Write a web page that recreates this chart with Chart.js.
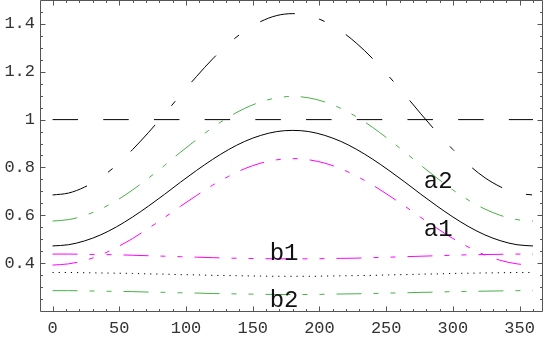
<!DOCTYPE html>
<html>
<head>
<meta charset="utf-8">
<script src="https://cdn.jsdelivr.net/npm/chart.js@4.4.0/dist/chart.umd.min.js"></script>
<style>
  html, body { margin: 0; padding: 0; background: #fff; }
  #wrap { width: 545px; height: 337px; }
</style>
</head>
<body>
<div id="wrap"><canvas id="chart" width="545" height="337"></canvas></div>
<script>
// x positions of the sampled points (degrees)
const angles = [0, 12, 24, 36, 48, 60, 72, 84, 96, 108, 120, 132, 144, 156, 168, 180,
    192, 204, 216, 228, 240, 252, 264, 276, 288, 300, 312, 324, 336, 348, 360];

// values
const upperDashDot = [0.685, 0.693, 0.718, 0.757, 0.810, 0.875, 0.947, 1.024, 1.104, 1.181, 1.254, 1.318, 1.371, 1.410, 1.435, 1.443,
    1.435, 1.410, 1.371, 1.318, 1.254, 1.181, 1.104, 1.024, 0.947, 0.875, 0.810, 0.757, 0.718, 0.693, 0.685];
const a2 = [0.576, 0.582, 0.599, 0.626, 0.662, 0.706, 0.756, 0.809, 0.864, 0.917, 0.967, 1.011, 1.047, 1.074, 1.091, 1.097,
    1.091, 1.074, 1.047, 1.011, 0.967, 0.917, 0.864, 0.809, 0.756, 0.706, 0.662, 0.626, 0.599, 0.582, 0.576];
const solidMid = [0.472, 0.477, 0.493, 0.518, 0.552, 0.593, 0.639, 0.688, 0.739, 0.788, 0.834, 0.875, 0.909, 0.934, 0.950, 0.955,
    0.950, 0.934, 0.909, 0.875, 0.834, 0.788, 0.739, 0.688, 0.639, 0.593, 0.552, 0.518, 0.493, 0.477, 0.472];
const a1 = [0.392, 0.397, 0.411, 0.434, 0.466, 0.503, 0.546, 0.591, 0.638, 0.683, 0.726, 0.763, 0.795, 0.818, 0.832, 0.837,
    0.832, 0.818, 0.795, 0.763, 0.726, 0.683, 0.638, 0.591, 0.546, 0.503, 0.466, 0.434, 0.411, 0.397, 0.392];
const b1 = [0.438, 0.438, 0.437, 0.436, 0.435, 0.433, 0.431, 0.429, 0.427, 0.425, 0.423, 0.421, 0.420, 0.419, 0.418, 0.418,
    0.418, 0.419, 0.420, 0.421, 0.423, 0.425, 0.427, 0.429, 0.431, 0.433, 0.435, 0.436, 0.437, 0.438, 0.438];
const dottedLow = [0.361, 0.361, 0.360, 0.359, 0.358, 0.357, 0.355, 0.354, 0.352, 0.351, 0.349, 0.348, 0.347, 0.346, 0.345, 0.345,
    0.345, 0.346, 0.347, 0.348, 0.349, 0.351, 0.352, 0.354, 0.355, 0.357, 0.358, 0.359, 0.360, 0.361, 0.361];
const b2 = [0.285, 0.285, 0.284, 0.283, 0.282, 0.281, 0.279, 0.278, 0.276, 0.275, 0.273, 0.272, 0.271, 0.270, 0.269, 0.269,
    0.269, 0.270, 0.271, 0.272, 0.273, 0.275, 0.276, 0.278, 0.279, 0.281, 0.282, 0.283, 0.284, 0.285, 0.285];

// horizontal reference line at 1
const refX = [0, 360];
const refY = [1, 1];

// axis ticks
const xTicks = [0, 50, 100, 150, 200, 250, 300, 350];
const xTickLabels = ['0', '50', '100', '150', '200', '250', '300', '350'];
const yTicks = [0.4, 0.6, 0.8, 1, 1.2, 1.4];
const yTickLabels = ['0.4', '0.6', '0.8', '1', '1.2', '1.4'];

// curve names written inside the plot
const curveNames = ['a2', 'a1', 'b1', 'b2'];

const GREEN = '#46b046';
const MAGENTA = '#ff00ff';
const BLACK = '#000000';
const LONG_SHORT_SHORT = [25, 12, 5, 12, 5, 12];

const toPoints = (xs, ys) => xs.map((x, i) => ({ x, y: ys[i] }));

const lineStyle = (color, dash) => ({
    borderColor: color,
    borderWidth: 1,
    borderDash: dash,
    pointRadius: 0,
    fill: false,
    cubicInterpolationMode: 'monotone',
});

// frame with inward ticks on all four sides (Mathematica style)
const frameTicks = {
    id: 'frameTicks',
    afterDraw(chart) {
        const { ctx, chartArea: a, scales: { x, y } } = chart;
        const L = Math.round(a.left) + 0.5;
        const R = Math.round(a.right) - 0.5;
        const T = Math.round(a.top) + 0.5;
        const B = Math.round(a.bottom) + 0.5;

        ctx.save();
        ctx.strokeStyle = '#555';
        ctx.lineWidth = 1;
        ctx.beginPath();
        ctx.rect(L, T, R - L, B - T);

        for (let v = 0; v <= 360; v += 10) {
            const len = v % 50 === 0 ? 5 : 2.5;
            const px = Math.round(x.getPixelForValue(v)) + 0.5;
            ctx.moveTo(px, B); ctx.lineTo(px, B - len);
            ctx.moveTo(px, T); ctx.lineTo(px, T + len);
        }
        for (let k = 5; k <= 29; k++) {
            const v = k * 0.05;
            const len = k % 4 === 0 ? 5 : 2.5;
            const py = Math.round(y.getPixelForValue(v)) + 0.5;
            ctx.moveTo(L, py); ctx.lineTo(L + len, py);
            ctx.moveTo(R, py); ctx.lineTo(R - len, py);
        }
        ctx.stroke();
        ctx.restore();
    },
    afterDatasetsDraw(chart) {
        const { ctx, scales: { x, y } } = chart;
        // label anchors in data units (centre x, baseline y)
        const anchors = [[289, 0.7125], [289, 0.5125], [173.5, 0.414], [173.5, 0.217]];
        ctx.save();
        ctx.font = '24px "Liberation Mono", monospace';
        ctx.fillStyle = '#111';
        ctx.textAlign = 'center';
        ctx.textBaseline = 'alphabetic';
        curveNames.forEach((name, i) => {
            ctx.fillText(name, x.getPixelForValue(anchors[i][0]), y.getPixelForValue(anchors[i][1]));
        });
        ctx.restore();
    },
};

const tickFont = { family: '"Liberation Mono", monospace', size: 17 };

new Chart(document.getElementById('chart'), {
    type: 'line',
    data: {
        datasets: [
            { data: toPoints(refX, refY), ...lineStyle(BLACK, [25.5, 25.2]) },
            { data: toPoints(angles, upperDashDot), ...lineStyle(BLACK, [36, 25, 6, 25]) },
            { data: toPoints(angles, a2), ...lineStyle(GREEN, LONG_SHORT_SHORT) },
            { data: toPoints(angles, solidMid), ...lineStyle(BLACK, []) },
            { data: toPoints(angles, a1), ...lineStyle(MAGENTA, LONG_SHORT_SHORT) },
            { data: toPoints(angles, b1), ...lineStyle(MAGENTA, LONG_SHORT_SHORT) },
            { data: toPoints(angles, dottedLow), ...lineStyle(BLACK, [1.2, 4.9]) },
            { data: toPoints(angles, b2), ...lineStyle(GREEN, LONG_SHORT_SHORT) },
        ],
    },
    options: {
        responsive: false,
        animation: false,
        devicePixelRatio: 1,
        layout: { padding: { left: 0, right: 2, top: 0, bottom: 0 } },
        plugins: {
            legend: { display: false },
            tooltip: { enabled: false },
        },
        scales: {
            x: {
                type: 'linear',
                min: -9.4,
                max: 367.5,
                grid: { display: false, drawTicks: false },
                border: { display: false },
                afterBuildTicks: (scale) => {
                    scale.ticks = xTicks.map((v) => ({ value: v }));
                },
                afterFit: (scale) => {
                    scale.height = 26;
                    scale.paddingLeft = 0;
                    scale.paddingRight = 0;
                },
                ticks: {
                    autoSkip: false,
                    maxRotation: 0,
                    padding: 7,
                    color: '#333',
                    font: tickFont,
                    callback: (value, index) => xTickLabels[index],
                },
            },
            y: {
                type: 'linear',
                min: 0.2,
                max: 1.5,
                grid: { display: false, drawTicks: false },
                border: { display: false },
                afterBuildTicks: (scale) => {
                    scale.ticks = yTicks.map((v) => ({ value: v }));
                },
                afterFit: (scale) => {
                    scale.width = 40;
                    scale.paddingTop = 0;
                    scale.paddingBottom = 0;
                },
                ticks: {
                    autoSkip: false,
                    padding: 5,
                    color: '#333',
                    font: tickFont,
                    callback: (value, index) => yTickLabels[index],
                },
            },
        },
    },
    plugins: [frameTicks],
});
</script>
</body>
</html>
